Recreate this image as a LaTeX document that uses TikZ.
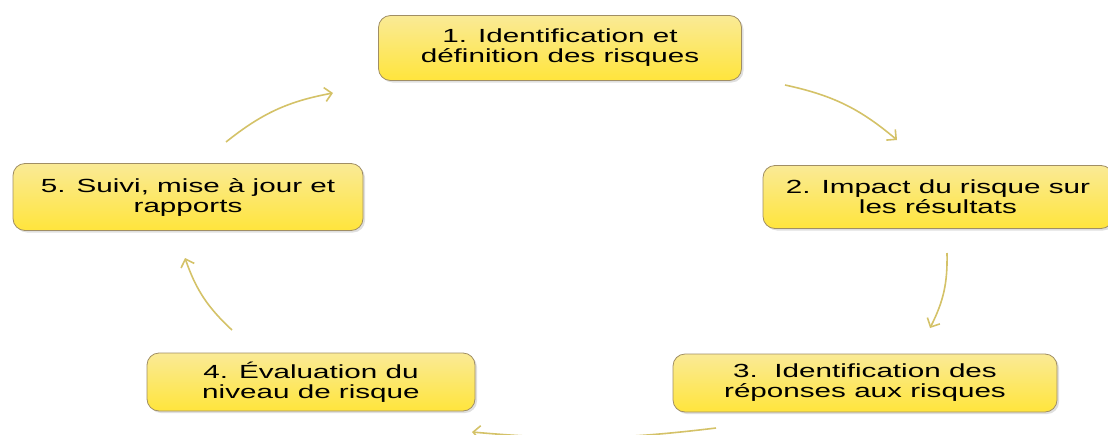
\documentclass[tikz,border=0pt]{standalone}
\usepackage{fontspec}
\setmainfont{Liberation Sans}
\newfontfamily\stagefont[FakeStretch=1.56]{Liberation Sans}
\usepackage{xcolor}
\usepackage{tikz}
\usetikzlibrary{arrows.meta,shadows}
\definecolor{boxtop}{RGB}{250,234,150}
\definecolor{boxbot}{RGB}{255,229,60}
\definecolor{boxline}{RGB}{160,142,100}
\definecolor{arrowol}{RGB}{212,194,104}

\begin{document}
\begin{tikzpicture}[
  x=1pt, y=-1pt,
  stage/.style={draw=boxline, line width=0.8pt, rounded corners=12pt, top color=boxtop, bottom color=boxbot,
    align=center, font=\stagefont\fontsize{19}{20}\selectfont, inner sep=0pt,
    drop shadow={opacity=0.25, shadow xshift=2pt, shadow yshift=-2pt}},
  flow/.style={-{Straight Barb[length=7pt,width=14pt]}, draw=arrowol, line width=1.6pt, bend left=14}
]
  \useasboundingbox (0,0) rectangle (1108,434);

  \node[stage, minimum width=363pt, minimum height=65pt] (n1) at (560,48) {1. Identification et\\définition des risques};
  \node[stage, minimum width=350pt, minimum height=63pt] (n2) at (938,197) {2. Impact du risque sur\\les résultats};
  \node[stage, minimum width=384pt, minimum height=58pt] (n3) at (865,383) {3.\ \ Identification des\\réponses aux risques};
  \node[stage, minimum width=328pt, minimum height=58pt] (n4) at (311,382) {4. Évaluation du\\niveau de risque};
  \node[stage, minimum width=350pt, minimum height=67pt] (n5) at (188,197) {5. Suivi, mise à jour et\\rapports};

  \coordinate (s12) at (785,85);  \coordinate (e12) at (897,140);
  \coordinate (s23) at (947,253); \coordinate (e23) at (930,328);
  \coordinate (s34) at (716,428); \coordinate (e34) at (472,432);
  \coordinate (s45) at (232,330); \coordinate (e45) at (185,258);
  \coordinate (s51) at (226,142); \coordinate (e51) at (333,93);

  \draw[flow] (s12) to (e12);
  \draw[flow] (s23) to (e23);
  \draw[flow, bend left=6] (s34) to (e34);
  \draw[flow] (s45) to (e45);
  \draw[flow] (s51) to (e51);
\end{tikzpicture}
\end{document}
